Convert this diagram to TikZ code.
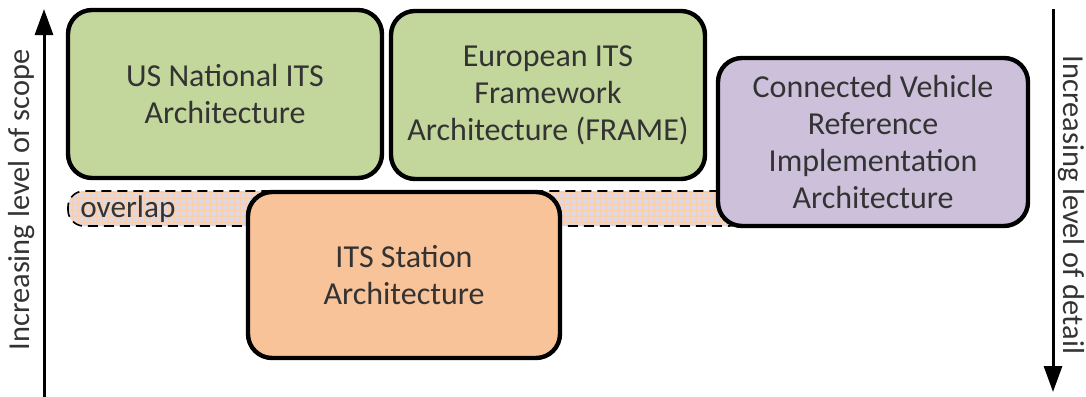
\documentclass[tikz,border=0pt]{standalone}
\usepackage{fontspec}
\setmainfont{Carlito}
\usepackage{tikz}
\usetikzlibrary{arrows.meta, patterns, positioning}
\definecolor{archgreen}{HTML}{C3D69B}
\definecolor{archpurple}{HTML}{CCC0DA}
\definecolor{archpeach}{HTML}{F9C399}
\definecolor{bandback}{HTML}{DCD8E8}
\definecolor{bandgrid}{HTML}{F8CFAA}
\definecolor{textgray}{HTML}{333333}
\tikzstyle{arch} = [rectangle, rounded corners=12pt, line width=2.2pt, draw=black, align=center, text=textgray, font=\fontsize{16}{18.5}\selectfont]
\tikzstyle{axis} = [line width=1.5pt, -{Triangle[width=9pt,length=13pt]}]
\tikzstyle{axislabel} = [text=textgray, font=\fontsize{15.2}{18}\selectfont]

\begin{document}
\begin{tikzpicture}[x=0.5pt, y=-0.5pt]
\useasboundingbox (0,0) rectangle (1086,396);

% overlap band behind the boxes
\draw [dashed, dash pattern=on 5pt off 3pt, line width=0.8pt, rounded corners=8pt, preaction={fill=bandback}, pattern=grid, pattern color=bandgrid] (68,191) rectangle (745,226);
\node (overlap) [anchor=west, axislabel, font=\fontsize{15.6}{18}\selectfont, inner sep=0pt] at (80,209) {overlap};

\node (us) [arch, fill=archgreen, minimum width=157pt, minimum height=84pt] at (225,94) {US National ITS\\Architecture};
\node (eu) [arch, fill=archgreen, minimum width=157pt, minimum height=84pt] at (548,95) {European ITS\\Framework\\Architecture (FRAME)};
\node (cv) [arch, fill=archpurple, minimum width=155pt, minimum height=84pt] at (873,142) {Connected Vehicle\\Reference\\Implementation\\Architecture};
\node (station) [arch, fill=archpeach, minimum width=156pt, minimum height=83pt] at (404,275) {ITS Station\\Architecture};

% axes
\coordinate (scopebot) at (44,398);
\coordinate (scopetop) at (44,9);
\coordinate (detailtop) at (1053,9);
\coordinate (detailbot) at (1053,392);
\draw [axis] (scopebot) -- (scopetop);
\draw [axis] (detailtop) -- (detailbot);
\node (scope) [axislabel, rotate=90] at (22,200) {Increasing level of scope};
\node (detail) [axislabel, rotate=-90] at (1071,205) {Increasing level of detail};

\end{tikzpicture}
\end{document}
